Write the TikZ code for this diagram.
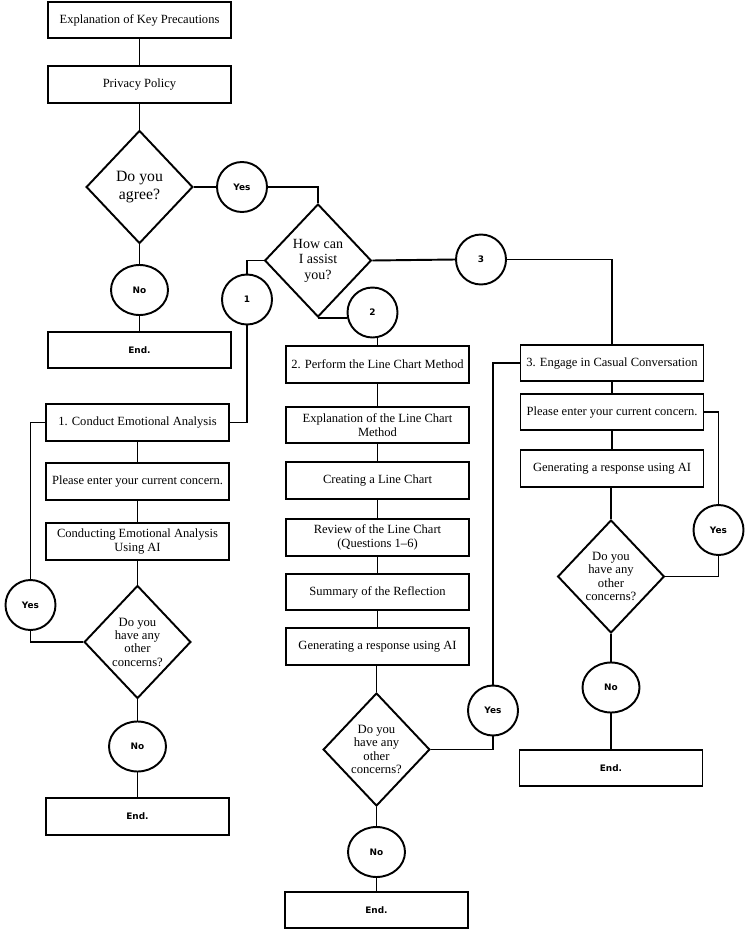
\documentclass[tikz,border=0pt]{standalone}
\usepackage{fontspec}
\setmainfont{Liberation Serif}
\newfontfamily\lblfont{DejaVu Sans}
\usetikzlibrary{shapes.geometric}
\begin{document}
\begin{tikzpicture}[x=0.75pt,y=-0.75pt,line width=1.45pt,
  box/.style={draw,rectangle,minimum width=137.25pt,minimum height=27.5pt,inner sep=1pt,align=center,font=\fontsize{9.4}{10.6}\selectfont},
  dec/.style={draw,diamond,minimum width=80pt,minimum height=84.75pt,inner sep=0pt,align=center,font=\fontsize{9.5}{10}\selectfont},
  circ/.style={draw,circle,minimum size=37.5pt,inner sep=0pt,font=\lblfont\bfseries\fontsize{6.7}{7}\selectfont},
  noel/.style={draw,ellipse,minimum width=42.75pt,minimum height=37.5pt,inner sep=0pt,font=\lblfont\bfseries\fontsize{6.7}{7}\selectfont},
  endbox/.style={box,font=\lblfont\bfseries\fontsize{6.7}{7}\selectfont}]
\useasboundingbox[fill=white] (0,0) rectangle (750,935);

% top part
\node[box] (b1) at (139.5,20) {Explanation of Key Precautions};
\node[box] (b2) at (139.5,84.5) {Privacy Policy};
\node[dec,font=\fontsize{11.8}{13}\selectfont] (d1) at (139.5,187) {Do you\\agree?};
\node[circ] (y1) at (242,187) {Yes};
\node[noel] (n1) at (139.5,290) {No};
\node[endbox] (e1) at (139.5,350) {End.};
\node[dec,font=\fontsize{10.5}{11.6}\selectfont] (d2) at (318,260.5) {How can\\I assist\\you?};
\node[circ] (c1) at (247,299.5) {1};
\node[circ] (c2) at (372.5,312.5) {2};
\node[circ] (c3) at (481,259.5) {3};

% column 1
\node[box] (a1) at (137.5,422.5) {1. Conduct Emotional Analysis};
\node[box] (a2) at (137.5,481.5) {Please enter your current concern.};
\node[box] (a3) at (137.5,541.5) {Conducting Emotional Analysis\\Using AI};
\node[dec] (d3) at (137.5,642) {Do you\\have any\\other\\concerns?};
\node[circ] (y3) at (30.5,605) {Yes};
\node[noel] (n3) at (137.5,746.5) {No};
\node[endbox] (e3) at (137.5,816.5) {End.};

% column 2
\node[box] (m1) at (377.5,364.5) {2. Perform the Line Chart Method};
\node[box] (m2) at (377.5,425) {Explanation of the Line Chart\\Method};
\node[box] (m3) at (377.5,480.5) {Creating a Line Chart};
\node[box] (m4) at (377.5,537.5) {Review of the Line Chart\\(Questions 1--6)};
\node[box] (m5) at (377.5,592) {Summary of the Reflection};
\node[box] (m6) at (377.5,646.5) {Generating a response using AI};
\node[dec] (d4) at (376.5,749.5) {Do you\\have any\\other\\concerns?};
\node[circ] (y4) at (493,710.5) {Yes};
\node[noel] (n4) at (376.5,852) {No};
\node[endbox] (e4) at (376.5,910) {End.};

% column 3
\node[box] (r1) at (612,363) {3. Engage in Casual Conversation};
\node[box] (r2) at (612,412) {Please enter your current concern.};
\node[box] (r3) at (612,468.5) {Generating a response using AI};
\node[dec] (d5) at (611,576.5) {Do you\\have any\\other\\concerns?};
\node[circ] (y5) at (718.5,530) {Yes};
\node[noel] (n5) at (611,687.5) {No};
\node[endbox] (e5) at (611,768) {End.};

% connectors top
\draw (b1.south) -- (b2.north);
\draw (b2.south) -- (d1.north);
\draw (d1.east) -- (y1.west);
\draw (y1.east) -| (d2.north);
\draw (d1.south) -- (n1.north);
\draw (n1.south) -- (e1.north);
\draw (d2.west) -| (c1.north);
\draw (d2.south) -- (d2.south -| c2.west);
\draw (c2.south -| m1.north) -- (m1.north);
\draw (d2.east) -- (c3.west);
\draw (c3.east) -| (r1.north);

% column 1 connectors
\draw (c1.south) |- (a1.east);
\draw (a1.south) -- (a2.north);
\draw (a2.south) -- (a3.north);
\draw (a3.south) -- (d3.north);
\draw (d3.west) -| (y3.south);
\draw (y3.north) |- (a1.west);
\draw (d3.south) -- (n3.north);
\draw (n3.south) -- (e3.north);

% column 2 connectors
\draw (m1.south) -- (m2.north);
\draw (m2.south) -- (m3.north);
\draw (m3.south) -- (m4.north);
\draw (m4.south) -- (m5.north);
\draw (m5.south) -- (m6.north);
\draw (m6.south -| d4.north) -- (d4.north);
\draw (d4.east) -| (y4.south);
\draw (y4.north) |- (r1.west);
\draw (d4.south) -- (n4.north);
\draw (n4.south) -- (e4.north);

% column 3 connectors
\draw (r1.south) -- (r2.north);
\draw (r2.south) -- (r3.north);
\draw (r3.south -| d5.north) -- (d5.north);
\draw (d5.east) -| (y5.south);
\draw (y5.north) |- (r2.east);
\draw (d5.south) -- (n5.north);
\draw (n5.south) -- (e5.north);
\end{tikzpicture}
\end{document}
